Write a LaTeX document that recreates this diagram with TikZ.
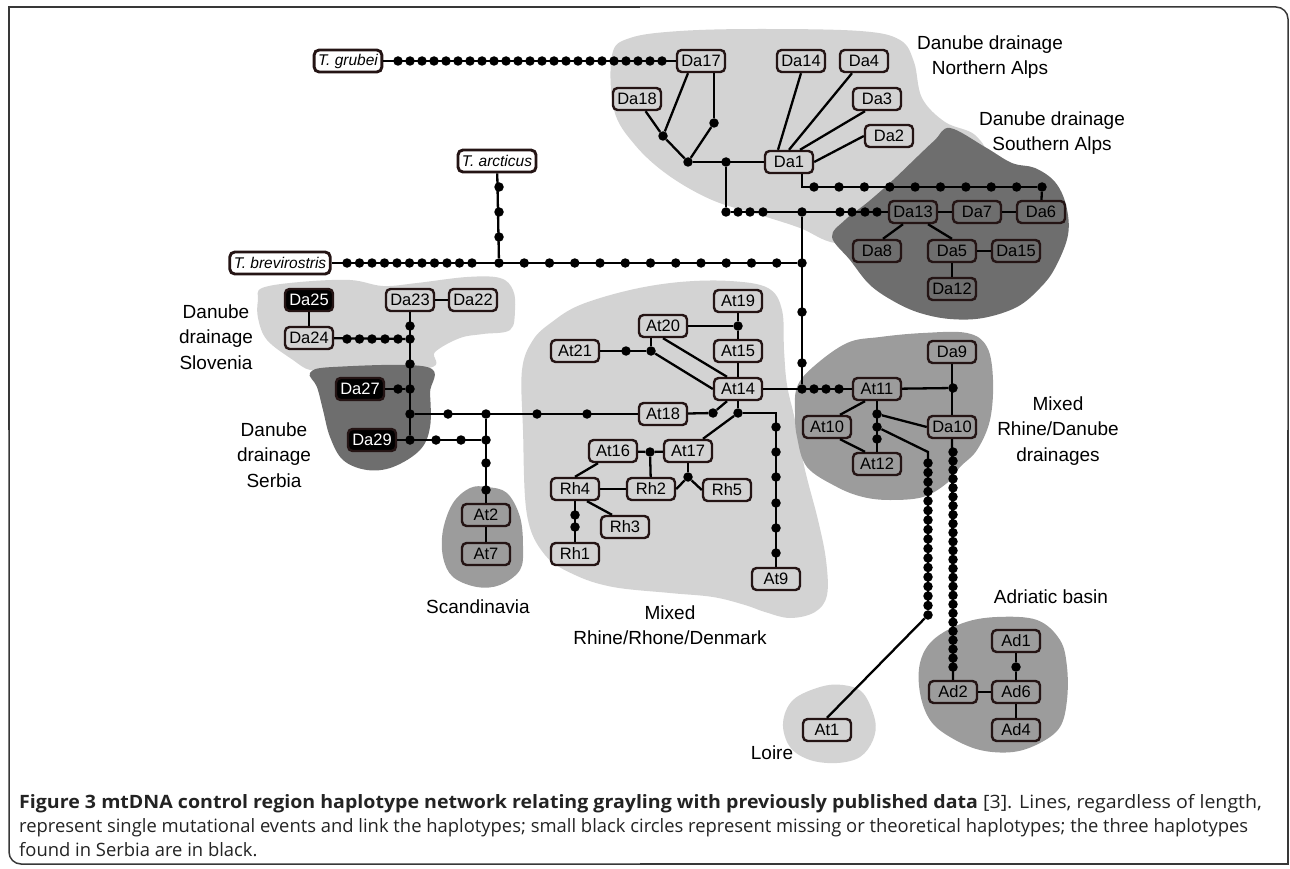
\documentclass[tikz,border=0pt]{standalone}
\usepackage{fontspec}
\setmainfont{Liberation Sans}
\newfontfamily\capfont{Open Sans}
\usetikzlibrary{calc}
\pgfdeclarelayer{bg}
\pgfsetlayers{bg,main}
\definecolor{lightg}{RGB}{211,211,211}
\definecolor{medg}{RGB}{156,156,156}
\definecolor{darkg}{RGB}{110,110,110}
\definecolor{bord}{RGB}{36,20,20}
\definecolor{captxt}{RGB}{35,35,35}
\begin{document}
\begin{tikzpicture}[x=1pt,y=-1pt,
  hap/.style={draw=bord, line width=2.4pt, rounded corners=4.5pt, minimum width=48pt, minimum height=22pt, inner sep=0pt, font=\fontsize{16.5}{16.5}\selectfont},
  blk/.style={hap, fill=black, text=white},
  spc/.style={draw=bord, line width=2.9pt, rounded corners=5pt, fill=white, minimum height=22pt, inner xsep=4pt, inner ysep=0pt, font=\fontsize{15.5}{15.5}\selectfont\itshape},
  mdot/.style={circle, fill=black, inner sep=0pt, minimum size=9.5pt},
  link/.style={line width=2.3pt, black},
  lbl/.style={align=center, inner sep=0pt, font=\fontsize{19}{25.5}\selectfont},
  captext/.style={anchor=base west, inner sep=0pt, text=captxt, font=\capfont\fontsize{18.4}{18.4}\selectfont},
  frm/.style={line width=1.5pt, black!78}]
\useasboundingbox (0,0) rectangle (1290,869);

% frame
\draw[frm] (9,430) -- (9,7) -- (640,7);
\draw[frm, rounded corners=12pt] (640,7) -- (1288,7) -- (1288,430);
\draw[frm] (1288,430) -- (1288,864) -- (640,864);
\draw[frm, rounded corners=12pt] (640,864) -- (9,864) -- (9,430);

% region blobs
\begin{pgfonlayer}{bg}
\fill[lightg] plot[smooth cycle, tension=0.6] coordinates {(612,55) (630,38) (680,31) (760,29) (860,31) (900,40) (914,62) (922,98) (945,122) (975,135) (985,160) (950,200) (880,240) (835,243) (800,228) (760,215) (712,200) (668,175) (635,145) (614,110)};
\fill[darkg] plot[smooth cycle, tension=0.6] coordinates {(950,128) (985,147) (1012,163) (1035,168) (1055,182) (1066,205) (1068,235) (1055,268) (1040,288) (1017,307) (983,318) (950,319) (920,313) (895,302) (870,285) (850,260) (832,237) (845,220) (868,202) (893,180) (918,156) (935,140)};
\fill[lightg] plot[smooth cycle, tension=0.6] coordinates {(258,300) (262,288) (300,282) (350,280) (383,286) (417,283) (467,277) (500,278) (513,290) (515,310) (510,330) (483,334) (460,338) (435,352) (428,368) (330,368) (310,370) (293,360) (267,340) (258,318)};
\fill[darkg] plot[smooth cycle, tension=0.6] coordinates {(310,373) (333,367) (427,367) (430,393) (430,427) (420,450) (393,467) (367,470) (343,460) (330,437) (323,410) (317,387)};
\fill[medg] plot[smooth cycle, tension=0.6] coordinates {(487,487) (507,493) (520,517) (523,547) (520,570) (500,585) (477,587) (453,577) (443,557) (443,530) (453,503) (470,488)};
\fill[lightg] plot[smooth cycle, tension=0.6] coordinates {(523,430) (522,370) (533,340) (552,322) (580,305) (630,290) (680,282) (730,281) (768,288) (782,310) (784,350) (787,385) (795,420) (805,470) (818,520) (826,560) (827,595) (815,612) (790,618) (765,612) (745,605) (713,597) (670,593) (613,587) (575,575) (545,555) (527,515)};
\fill[medg] plot[smooth cycle, tension=0.6] coordinates {(797,387) (813,367) (847,343) (880,337) (923,333) (967,333) (987,347) (993,380) (990,420) (977,450) (960,467) (947,483) (923,497) (890,500) (863,497) (837,487) (807,467) (797,437) (795,413)};
\fill[medg] plot[smooth cycle, tension=0.6] coordinates {(920,663) (933,640) (963,623) (997,617) (1037,620) (1060,640) (1067,667) (1067,700) (1060,727) (1040,743) (1013,752) (980,750) (950,737) (930,720) (920,693)};
\fill[lightg] plot[smooth cycle, tension=0.6] coordinates {(783,723) (793,700) (820,687) (843,685) (863,693) (875,720) (873,740) (860,757) (837,763) (810,760) (790,747)};
\end{pgfonlayer}

% region labels
\node[lbl] (lNA) at (990,57) {Danube drainage\\Northern Alps};
\node[lbl] (lSA) at (1052,133) {Danube drainage\\Southern Alps};
\node[lbl] (lSl) at (216,337) {Danube\\drainage\\Slovenia};
\node[lbl] (lSe) at (274,455) {Danube\\drainage\\Serbia};
\node[lbl] (lSc) at (478,607) {Scandinavia};
\node[lbl] (lMR) at (670,625) {Mixed\\Rhine/Rhone/Denmark};
\node[lbl] (lMD) at (1058,431) {Mixed\\Rhine/Danube\\drainages};
\node[lbl] (lAd) at (1051,597) {Adriatic basin};
\node[lbl] (lLo) at (772,753) {Loire};

% species
\node[spc] (grubei) at (348,61) {T. grubei};
\node[spc] (arcticus) at (497,161) {T. arcticus};
\node[spc] (brev) at (280,263) {T. brevirostris};

% haplotypes
\node[hap] (Da17) at (701,61) {Da17};
\node[hap] (Da18) at (637,99) {Da18};
\node[hap] (Da14) at (801,61) {Da14};
\node[hap] (Da4) at (864,61) {Da4};
\node[hap] (Da3) at (877,99) {Da3};
\node[hap] (Da2) at (889,136) {Da2};
\node[hap] (Da1) at (789,162) {Da1};
\node[hap] (Da13) at (913,212) {Da13};
\node[hap] (Da7) at (977,212) {Da7};
\node[hap] (Da6) at (1041,212) {Da6};
\node[hap] (Da8) at (877,251) {Da8};
\node[hap] (Da5) at (952,251) {Da5};
\node[hap] (Da15) at (1016,251) {Da15};
\node[hap] (Da12) at (952,289) {Da12};
\node[blk] (Da25) at (309,300) {Da25};
\node[hap] (Da23) at (410,300) {Da23};
\node[hap] (Da22) at (473,300) {Da22};
\node[hap] (Da24) at (309,338) {Da24};
\node[blk] (Da27) at (360,389) {Da27};
\node[blk] (Da29) at (372,440) {Da29};
\node[hap] (At2) at (486,515) {At2};
\node[hap] (At7) at (486,554) {At7};
\node[hap] (At19) at (738,301) {At19};
\node[hap] (At20) at (663,326) {At20};
\node[hap] (At15) at (738,351) {At15};
\node[hap] (At21) at (575,351) {At21};
\node[hap] (At14) at (738,389) {At14};
\node[hap] (At18) at (663,414) {At18};
\node[hap] (At16) at (613,451) {At16};
\node[hap] (At17) at (688,451) {At17};
\node[hap] (Rh4) at (575,489) {Rh4};
\node[hap] (Rh2) at (651,489) {Rh2};
\node[hap] (Rh5) at (727,490) {Rh5};
\node[hap] (Rh3) at (625,527) {Rh3};
\node[hap] (Rh1) at (575,554) {Rh1};
\node[hap] (At9) at (776,579) {At9};
\node[hap] (At11) at (877,389) {At11};
\node[hap] (Da9) at (952,352) {Da9};
\node[hap] (Da10) at (952,427) {Da10};
\node[hap] (At10) at (827,427) {At10};
\node[hap] (At12) at (877,464) {At12};
\node[hap] (Ad1) at (1016,641) {Ad1};
\node[hap] (Ad6) at (1016,692) {Ad6};
\node[hap] (Ad2) at (953,692) {Ad2};
\node[hap] (Ad4) at (1016,730) {Ad4};
\node[hap] (At1) at (827,730) {At1};

% junction / missing haplotypes
\node[mdot] (j1) at (663,136) {};
\node[mdot] (j2) at (714,123) {};
\node[mdot] (j3) at (688,162) {};
\node[mdot] (j4) at (726,162) {};
\node[mdot] (k1) at (726,212) {};
\node[mdot] (j5) at (1042,187) {};
\node[mdot] (j6) at (802,212) {};
\node[mdot] (j7) at (802,263) {};
\node[mdot] (j8) at (499,263) {};
\node[mdot] (j9) at (802,389) {};
\node[mdot] (j10) at (953,388) {};
\node[mdot] (j11) at (877,414) {};
\node[mdot] (j12) at (877,427) {};
\node[mdot] (j13) at (877,439) {};
\node[mdot] (j14) at (1016,667) {};
\node[mdot] (j15) at (738,326) {};
\node[mdot] (j16) at (651,351) {};
\node[mdot] (j17) at (713,413) {};
\node[mdot] (j18) at (738,413) {};
\node[mdot] (j19) at (650,452) {};
\node[mdot] (j20) at (688,477) {};
\node[mdot] (j21) at (410,339) {};
\node[mdot] (j22) at (410,389) {};
\node[mdot] (j23) at (410,414) {};
\node[mdot] (j24) at (410,440) {};
\node[mdot] (j25) at (486,440) {};
\node[mdot] (j26) at (486,414) {};
\node[mdot] (cL) at (928,615) {};
\coordinate (c2) at (928,452);

\foreach \k in {0,...,22} \node[mdot] (g\k) at ({398+12*\k},61) {};
\foreach \k in {0,...,10} \node[mdot] (b\k) at ({347+12.5*\k},263) {};
\foreach \k in {1,...,11} \node[mdot] (br\k) at ({499+25.25*\k},263) {};
\foreach \y [count=\i] in {187,212,237} \node[mdot] (ar\i) at (499,\y) {};
\node[mdot] (r0) at (814,187) {};
\foreach \k in {0,...,7} \node[mdot] (rr\k) at ({839+25.375*\k},187) {};
\foreach \x [count=\i] in {738,750,763} \node[mdot] (s\i) at (\x,212) {};
\foreach \x [count=\i] in {840,852,865,877} \node[mdot] (t\i) at (\x,212) {};
\foreach \y [count=\i] in {312,363} \node[mdot] (v\i) at (802,\y) {};
\foreach \x [count=\i] in {814,826,839} \node[mdot] (w\i) at (\x,389) {};
\foreach \y [count=\i] in {427,452,477,503,528,553} \node[mdot] (n\i) at (776,\y) {};
\foreach \y [count=\i] in {515,527} \node[mdot] (h\i) at (575,\y) {};
\node[mdot] (a1) at (626,351) {};
\foreach \k in {0,...,15} \node[mdot] (lc\k) at (928,{463+9.5*\k}) {};
\foreach \k in {0,...,24} \node[mdot] (rc\k) at (953,{452+8.96*\k}) {};
\node[mdot] (sv1) at (410,326) {};
\node[mdot] (sv2) at (410,364) {};
\foreach \x [count=\i] in {347,359.5,372,385,398} \node[mdot] (sd\i) at (\x,339) {};
\node[mdot] (sd6) at (398,389) {};
\foreach \x [count=\i] in {436,461} \node[mdot] (se\i) at (\x,440) {};
\foreach \x [count=\i] in {448,537,587} \node[mdot] (sf\i) at (\x,414) {};
\foreach \y [count=\i] in {463,490} \node[mdot] (sg\i) at (486,\y) {};

% connectors: outgroups
\draw[link] (grubei) -- (Da17);
\draw[link] (brev) -- (j7);
\draw[link] (arcticus) -- (j8);
% Northern Alps
\draw[link] (Da18) -- (j1);
\draw[link] ($(Da17.south)+(-13,0)$) -- (j1);
\draw[link] (j1) -- (j3);
\draw[link] ($(Da17.south)+(13,0)$) -- (j2);
\draw[link] (j2) -- (j3);
\draw[link] (j3) -- (Da1);
\draw[link] ($(Da1.north)+(-11,0)$) -- (Da14.south);
\draw[link] (Da1.north) -- ($(Da4.south)+(-12,0)$);
\draw[link] ($(Da1.north)+(11,0)$) -- ($(Da3.south)+(-12,0)$);
\draw[link] (Da1.east) -- (Da2.west);
\draw[link] ($(Da1.south)+(13,0)$) |- (j5);
\draw[link] (j5) -- (Da6);
\draw[link] (j4) -- (k1) -- (Da13);
\draw[link] (j6) -- (j9);
% Southern Alps
\draw[link] (Da13) -- (Da7) -- (Da6);
\draw[link] ($(Da13.south)+(-10,0)$) -- ($(Da8.north)+(6,0)$);
\draw[link] ($(Da13.south)+(15,0)$) -- (Da5.north);
\draw[link] (Da5) -- (Da15);
\draw[link] (Da5) -- (Da12);
% Rhine/Rhone/Denmark
\draw[link] (At19) -- (j15) -- (At15) -- (At14);
\draw[link] (At20) -- (j15);
\draw[link] (At21) -- (j16);
\draw[link] (j16) -- (j16 |- At20.south);
\draw[link] (j16) -- (At14.west);
\draw[link] (At20.south) -- ($(At14.north)+(-11,0)$);
\draw[link] ($(At14.south)+(-11,0)$) -- (j17);
\draw[link] (At18) -- (j17);
\draw[link] (At14) -- (j18);
\draw[link] (j18) -| (At9);
\draw[link] (j18) -- ($(At17.north)+(15,0)$);
\draw[link] (At16) -- (j19) -- (At17);
\draw[link] (j19) -- (Rh2);
\draw[link] (At17) -- (j20);
\draw[link] (j20) -- (Rh2.east);
\draw[link] (j20) -- (Rh5.west);
\draw[link] ($(At16.south)+(-15,0)$) -- (Rh4.north);
\draw[link] (Rh4) -- (Rh2);
\draw[link] ($(Rh4.south)+(12,0)$) -- ($(Rh3.north)+(-13,0)$);
\draw[link] (Rh4) -- (Rh1);
% Rhine/Danube
\draw[link] (At14) -- (At11);
\draw[link] (At11) -- (j10);
\draw[link] (Da9) -- (Da10);
\draw[link] ($(At11.south)+(-12,0)$) -- ($(At10.north)+(13,0)$);
\draw[link] ($(At10.south)+(13,0)$) -- ($(At12.north)+(-12,0)$);
\draw[link] (At11) -- (At12);
\draw[link] (j11) -- (Da10.west);
\draw[link] (j12) -- (c2) -- (cL);
\draw[link] (cL) -- (At1.north);
\draw[link] (Da10) -- (Ad2);
% Adriatic
\draw[link] (Ad1) -- (j14) -- (Ad6);
\draw[link] (Ad2) -- (Ad6);
\draw[link] (Ad6) -- (Ad4);
% Slovenia / Serbia / Scandinavia
\draw[link] (Da25) -- (Da24);
\draw[link] (Da23) -- (Da22);
\draw[link] (Da23) -- (j24);
\draw[link] (Da24) -- (j21);
\draw[link] (Da27) -- (j22);
\draw[link] (Da29) -- (j25);
\draw[link] (j23) -- (At18);
\draw[link] (j26) -- (At2);
\draw[link] (At2) -- (At7);

% caption
\node[captext] (cap1) at (19,808) {\scalebox{1.064}[1]{\textbf{Figure 3 mtDNA control region haplotype network relating grayling with previously published data} [3]. Lines, regardless of length,}};
\node[captext] (cap2) at (19,832) {represent single mutational events and link the haplotypes; small black circles represent missing or theoretical haplotypes; the three haplotypes};
\node[captext] (cap3) at (19,856) {found in Serbia are in black.};
\end{tikzpicture}
\end{document}
